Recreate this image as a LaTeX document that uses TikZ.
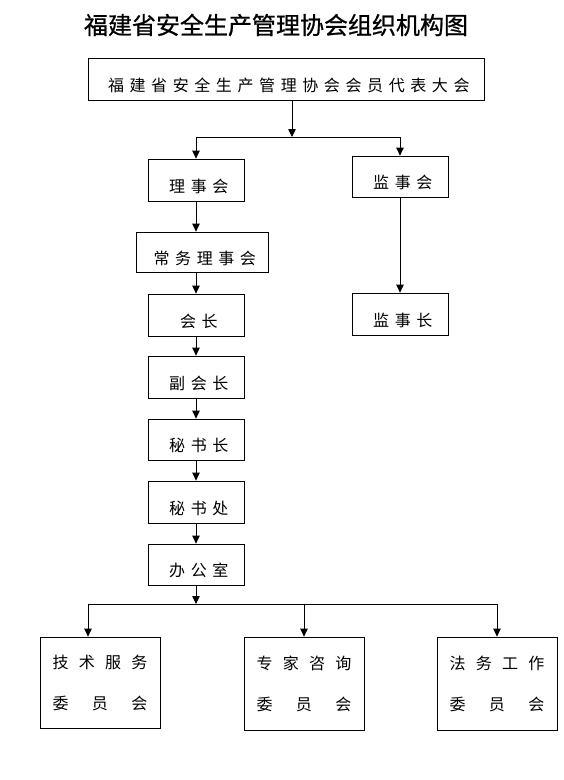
\documentclass[tikz,border=0pt]{standalone}
\usepackage{fontspec}
\usetikzlibrary{arrows.meta}
\newfontfamily\cjk[LetterSpace=35]{Noto Sans CJK SC}
\newfontfamily\cjkplain{Noto Sans CJK SC}
\newfontfamily\cjktitle[FakeBold=0.8]{Noto Sans CJK SC}
\newcommand{\spread}[1]{\makebox[95pt][s]{#1}}

\begin{document}
\begin{tikzpicture}[x=1pt, y=-1pt, line width=0.8pt,
		box/.style={draw, rectangle, minimum height=42pt, text height=24pt, text depth=0pt, inner sep=0pt, font=\cjk\fontsize{16pt}{19pt}\selectfont, execute at end node={\kern-.35em}},
		wbox/.style={draw, rectangle, minimum width=120pt, align=center, font=\cjkplain\fontsize{16pt}{41pt}\selectfont},
		arr/.style={-{Triangle[length=8pt,width=7.5pt]}}]
			\useasboundingbox (0,0) rectangle (564,780);
			\node (title) at (276,25) [font=\cjktitle\fontsize{24pt}{29pt}\selectfont] {福建省安全生产管理协会组织机构图};
			\node (dahui) at (286,79) [box, minimum width=396pt] {福建省安全生产管理协会会员代表大会};
			\node (lishi) at (196,180) [box, minimum width=96pt] {理事会};
			\node (jianshi) at (400,176.5) [box, minimum width=96pt, minimum height=41pt] {监事会};
			\node (changwu) at (202,252) [box, minimum width=132pt, minimum height=40pt] {常务理事会};
			\node (huizhang) at (196,315) [box, minimum width=96pt] {会长};
			\node (jszhang) at (400,314) [box, minimum width=96pt] {监事长};
			\node (fuhz) at (196,377) [box, minimum width=96pt] {副会长};
			\node (mszhang) at (196,439.5) [box, minimum width=96pt, minimum height=41pt] {秘书长};
			\node (mschu) at (196,502) [box, minimum width=96pt] {秘书处};
			\node (bgs) at (196,564.5) [box, minimum width=96pt, minimum height=41pt] {办公室};
			\node (jishu) at (100,682.5) [wbox, minimum height=91pt] {\spread{技\hfill 术\hfill 服\hfill 务}\\\spread{委\hfill 员\hfill 会}};
			\node (zhuanjia) at (304,683.5) [wbox, minimum height=93pt] {\spread{专\hfill 家\hfill 咨\hfill 询}\\\spread{委\hfill 员\hfill 会}};
			\node (fawu) at (497,683.5) [wbox, minimum height=93pt] {\spread{法\hfill 务\hfill 工\hfill 作}\\\spread{委\hfill 员\hfill 会}};
			\coordinate (bus1) at (292,137);
			\coordinate (bus2) at (196,604);
			\coordinate (busL) at (88,604);
			\draw[arr] (dahui.south -| bus1) -- (bus1);
			\draw (bus1 -| lishi) -- (bus1 -| jianshi);
			\draw[arr] (bus1 -| lishi) -- (lishi.north);
			\draw[arr] (bus1 -| jianshi) -- (jianshi.north);
			\draw[arr] (lishi.south) -- (lishi.south |- changwu.north);
			\draw[arr] (lishi.south |- changwu.south) -- (huizhang.north);
			\draw[arr] (huizhang) -- (fuhz);
			\draw[arr] (fuhz) -- (mszhang);
			\draw[arr] (mszhang) -- (mschu);
			\draw[arr] (mschu) -- (bgs);
			\draw[arr] (jianshi) -- (jszhang);
			\draw[arr] (bgs.south) -- (bus2);
			\draw (busL) -- (bus2 -| fawu);
			\draw[arr] (busL) -- (busL |- jishu.north);
			\draw[arr] (bus2 -| zhuanjia) -- (zhuanjia.north);
			\draw[arr] (bus2 -| fawu) -- (fawu.north);
		\end{tikzpicture}
\end{document}
